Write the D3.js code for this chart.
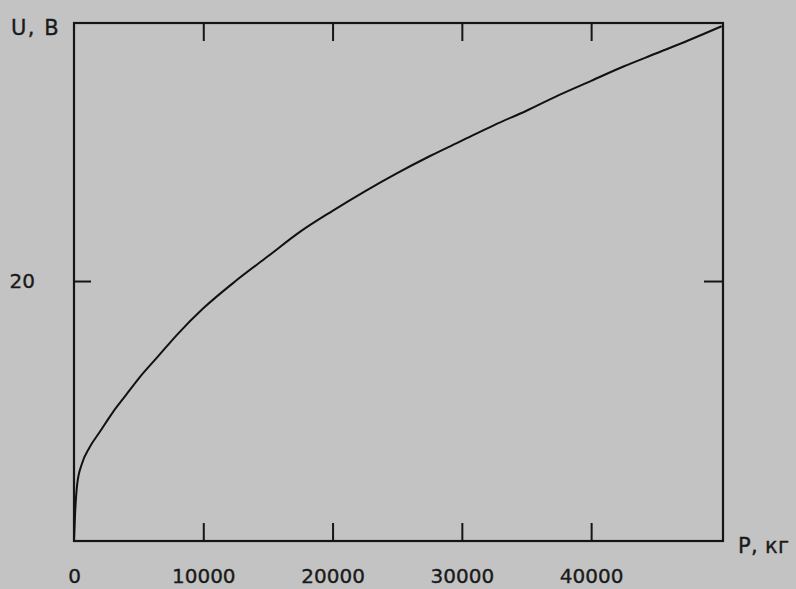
<!DOCTYPE html>
<html>
<head>
    <meta charset="UTF-8">
    <title>U(P)</title>
    <style>
        body { margin: 0; background-color: #c3c3c3; }
        svg { display: block; }
        text { font-family: 'DejaVu Sans', sans-serif; fill: #1a1a1a; stroke: #1a1a1a; stroke-width: 0.35px; }
    </style>
</head>
<body>
    <svg width="796" height="589"></svg>
    <script src="https://d3js.org/d3.v7.min.js"></script>
    <script>
        // load P (kg) vs output U (V)
        let loadKg = [0, 80, 250, 600, 1200, 2000, 3000, 4000, 5000, 6500, 8000, 10000, 12500, 15000,
            17500, 20000, 22500, 25000, 27500, 30000, 32500, 35000, 37500, 40000, 42500,
            45000, 47500, 50100];
        let voltage = [0, 2.0, 4.4, 5.9, 7.2, 8.4, 9.9, 11.2, 12.5, 14.2, 15.9, 17.9, 20.0, 21.9,
            23.8, 25.4, 26.9, 28.3, 29.6, 30.8, 32.0, 33.1, 34.3, 35.4, 36.5,
            37.5, 38.5, 39.6];
        let xTicks = [0, 10000, 20000, 30000, 40000];
        let yTicks = [20];

        let width = 796, height = 589;
        let mLeft = 74, mRight = 723, mTop = 23, mBottom = 541;

        let svg = d3.select("svg");

        svg.append("rect")
            .attr("width", width)
            .attr("height", height)
            .attr("fill", "#c3c3c3");

        let x = d3.scaleLinear().domain([0, 50200]).range([mLeft, mRight]);
        let y = d3.scaleLinear().domain([0, 39.85]).range([mBottom, mTop]);

        // frame
        svg.append("rect")
            .attr("x", mLeft)
            .attr("y", mTop)
            .attr("width", mRight - mLeft)
            .attr("height", mBottom - mTop)
            .attr("fill", "none")
            .attr("stroke", "#151515")
            .attr("stroke-width", 2.2);

        // bottom axis, ticks pointing in
        let xAxis = svg.append("g")
            .attr("transform", `translate(0,${mBottom})`)
            .call(d3.axisBottom(x).tickValues(xTicks).tickFormat(d3.format("d"))
                .tickSizeInner(-18).tickSizeOuter(0).tickPadding(28));
        xAxis.select(".domain").remove();
        xAxis.selectAll(".tick").filter(d => d === 0).select("line").remove();
        xAxis.selectAll("line").attr("stroke", "#151515").attr("stroke-width", 2);
        xAxis.selectAll("text").attr("font-size", 20).attr("fill", "#1a1a1a")
            .style("font-family", "'DejaVu Sans', sans-serif");

        // top ticks
        let xTop = svg.append("g")
            .attr("transform", `translate(0,${mTop})`)
            .call(d3.axisTop(x).tickValues(xTicks.slice(1)).tickSizeInner(-18).tickSizeOuter(0).tickFormat(""));
        xTop.select(".domain").remove();
        xTop.selectAll("line").attr("stroke", "#151515").attr("stroke-width", 2);

        // left axis
        let yAxis = svg.append("g")
            .attr("transform", `translate(${mLeft},0)`)
            .call(d3.axisLeft(y).tickValues(yTicks).tickSizeInner(-17).tickSizeOuter(0).tickPadding(39));
        yAxis.select(".domain").remove();
        yAxis.selectAll("line").attr("stroke", "#151515").attr("stroke-width", 2);
        yAxis.selectAll("text").attr("font-size", 20).attr("fill", "#1a1a1a")
            .style("font-family", "'DejaVu Sans', sans-serif");

        // right ticks
        let yRight = svg.append("g")
            .attr("transform", `translate(${mRight},0)`)
            .call(d3.axisRight(y).tickValues(yTicks).tickSizeInner(-19).tickSizeOuter(0).tickFormat(""));
        yRight.select(".domain").remove();
        yRight.selectAll("line").attr("stroke", "#151515").attr("stroke-width", 2);

        // curve
        let line = d3.line()
            .x((d, i) => x(d))
            .y((d, i) => y(voltage[i]))
            .curve(d3.curveMonotoneX);

        svg.append("path")
            .datum(loadKg)
            .attr("d", line)
            .attr("fill", "none")
            .attr("stroke", "#111")
            .attr("stroke-width", 2);

        // axis titles
        svg.append("text")
            .attr("x", 11)
            .attr("y", 35)
            .attr("font-size", 21)
            .attr("letter-spacing", 1.5)
            .text("U, B");

        svg.append("text")
            .attr("x", 738)
            .attr("y", 553)
            .attr("font-size", 21)
            .attr("letter-spacing", 0.3)
            .text("P, кг");
    </script>
</body>
</html>
